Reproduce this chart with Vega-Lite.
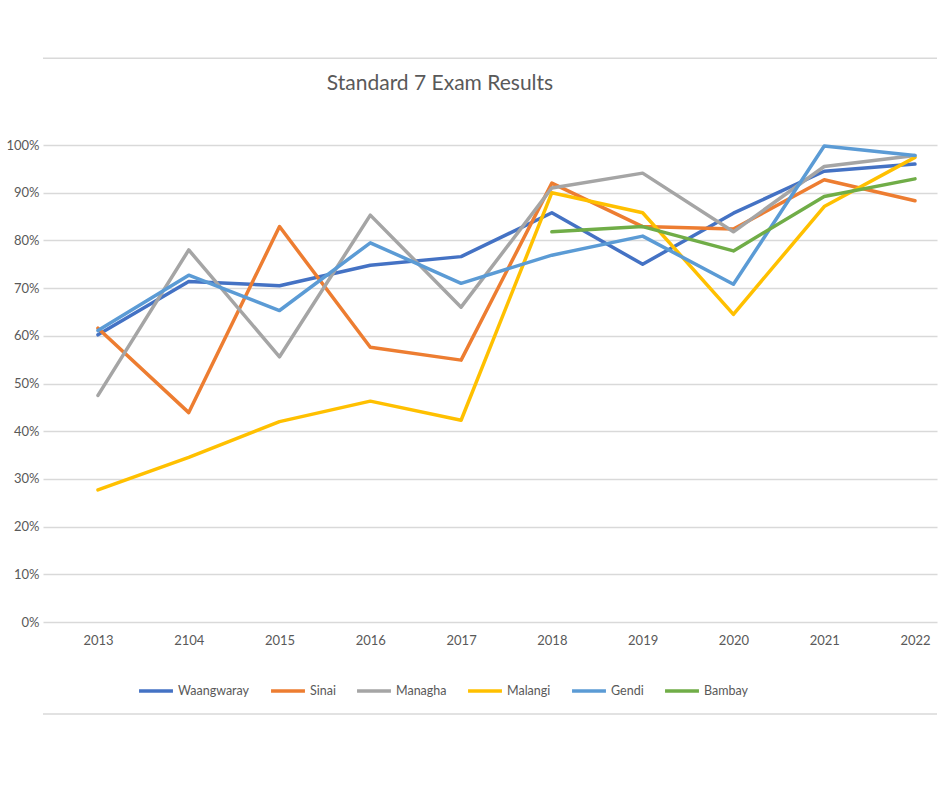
{
  "$schema": "https://vega.github.io/schema/vega-lite/v6.json",
  "autosize": "none",
  "width": 894,
  "height": 477,
  "padding": {"left": 43, "top": 145, "right": 3, "bottom": 166},
  "background": "white",
  "title": {
    "text": "Standard 7 Exam Results",
    "font": "Lato",
    "fontSize": 21,
    "fontWeight": "normal",
    "color": "#595959",
    "anchor": "middle",
    "dx": -50,
    "offset": -37
  },
  "layer": [
    {
      "data": {"values": [{}]},
      "mark": {"type": "rule", "color": "#d9d9d9", "strokeWidth": 1.5, "clip": false},
      "encoding": {"y": {"datum": 1.182, "type": "quantitative", "scale": {"domain": [0, 1], "nice": false}}}
    },
    {
      "data": {"values": [{}]},
      "mark": {"type": "rule", "color": "#d9d9d9", "strokeWidth": 1.5, "clip": false},
      "encoding": {"y": {"datum": -0.193, "type": "quantitative"}}
    },
    {
      "data": {
        "values": [
          {"school": "Waangwaray", "year": "2013", "pct": 0.602},
          {"school": "Waangwaray", "year": "2104", "pct": 0.714},
          {"school": "Waangwaray", "year": "2015", "pct": 0.705},
          {"school": "Waangwaray", "year": "2016", "pct": 0.748},
          {"school": "Waangwaray", "year": "2017", "pct": 0.766},
          {"school": "Waangwaray", "year": "2018", "pct": 0.858},
          {"school": "Waangwaray", "year": "2019", "pct": 0.750},
          {"school": "Waangwaray", "year": "2020", "pct": 0.857},
          {"school": "Waangwaray", "year": "2021", "pct": 0.945},
          {"school": "Waangwaray", "year": "2022", "pct": 0.960},
          {"school": "Sinai", "year": "2013", "pct": 0.616},
          {"school": "Sinai", "year": "2104", "pct": 0.439},
          {"school": "Sinai", "year": "2015", "pct": 0.829},
          {"school": "Sinai", "year": "2016", "pct": 0.576},
          {"school": "Sinai", "year": "2017", "pct": 0.549},
          {"school": "Sinai", "year": "2018", "pct": 0.920},
          {"school": "Sinai", "year": "2019", "pct": 0.829},
          {"school": "Sinai", "year": "2020", "pct": 0.824},
          {"school": "Sinai", "year": "2021", "pct": 0.927},
          {"school": "Sinai", "year": "2022", "pct": 0.883},
          {"school": "Managha", "year": "2013", "pct": 0.475},
          {"school": "Managha", "year": "2104", "pct": 0.780},
          {"school": "Managha", "year": "2015", "pct": 0.556},
          {"school": "Managha", "year": "2016", "pct": 0.853},
          {"school": "Managha", "year": "2017", "pct": 0.660},
          {"school": "Managha", "year": "2018", "pct": 0.910},
          {"school": "Managha", "year": "2019", "pct": 0.941},
          {"school": "Managha", "year": "2020", "pct": 0.818},
          {"school": "Managha", "year": "2021", "pct": 0.955},
          {"school": "Managha", "year": "2022", "pct": 0.978},
          {"school": "Malangi", "year": "2013", "pct": 0.277},
          {"school": "Malangi", "year": "2104", "pct": 0.345},
          {"school": "Malangi", "year": "2015", "pct": 0.420},
          {"school": "Malangi", "year": "2016", "pct": 0.463},
          {"school": "Malangi", "year": "2017", "pct": 0.423},
          {"school": "Malangi", "year": "2018", "pct": 0.900},
          {"school": "Malangi", "year": "2019", "pct": 0.858},
          {"school": "Malangi", "year": "2020", "pct": 0.645},
          {"school": "Malangi", "year": "2021", "pct": 0.871},
          {"school": "Malangi", "year": "2022", "pct": 0.974},
          {"school": "Gendi", "year": "2013", "pct": 0.611},
          {"school": "Gendi", "year": "2104", "pct": 0.727},
          {"school": "Gendi", "year": "2015", "pct": 0.653},
          {"school": "Gendi", "year": "2016", "pct": 0.795},
          {"school": "Gendi", "year": "2017", "pct": 0.710},
          {"school": "Gendi", "year": "2018", "pct": 0.769},
          {"school": "Gendi", "year": "2019", "pct": 0.809},
          {"school": "Gendi", "year": "2020", "pct": 0.708},
          {"school": "Gendi", "year": "2021", "pct": 0.998},
          {"school": "Gendi", "year": "2022", "pct": 0.978},
          {"school": "Bambay", "year": "2018", "pct": 0.818},
          {"school": "Bambay", "year": "2019", "pct": 0.829},
          {"school": "Bambay", "year": "2020", "pct": 0.778},
          {"school": "Bambay", "year": "2021", "pct": 0.892},
          {"school": "Bambay", "year": "2022", "pct": 0.929}
        ]
      },
      "mark": {"type": "line", "strokeWidth": 3.5, "strokeCap": "round", "strokeJoin": "round"},
      "encoding": {
        "x": {
          "field": "year",
          "type": "ordinal",
          "sort": ["2013", "2104", "2015", "2016", "2017", "2018", "2019", "2020", "2021", "2022"],
          "scale": {"type": "point", "padding": 0.424, "align": 0.714},
          "axis": {
            "title": null,
            "domain": false,
            "ticks": false,
            "grid": false,
            "labelAngle": 0,
            "labelFont": "Lato",
            "labelFontSize": 13,
            "labelColor": "#595959",
            "labelPadding": 12
          }
        },
        "y": {
          "field": "pct",
          "type": "quantitative",
          "scale": {"domain": [0, 1], "nice": false},
          "axis": {
            "title": null,
            "format": ".0%",
            "values": [0, 0.1, 0.2, 0.3, 0.4, 0.5, 0.6, 0.7, 0.8, 0.9, 1],
            "domain": false,
            "ticks": false,
            "grid": true,
            "gridColor": "#d9d9d9",
            "gridWidth": 1.3,
            "labelFont": "Lato",
            "labelFontSize": 13,
            "labelColor": "#595959",
            "labelPadding": 4
          }
        },
        "color": {
          "field": "school",
          "type": "nominal",
          "sort": ["Waangwaray", "Sinai", "Managha", "Malangi", "Gendi", "Bambay"],
          "scale": {
            "domain": ["Waangwaray", "Sinai", "Managha", "Malangi", "Gendi", "Bambay"],
            "range": ["#4472C4", "#ED7D31", "#A5A5A5", "#FFC000", "#5B9BD5", "#70AD47"]
          },
          "legend": {
            "title": null,
            "orient": "none",
            "direction": "horizontal",
            "legendX": 94,
            "legendY": 527,
            "symbolType": "stroke",
            "symbolStrokeWidth": 3.5,
            "symbolSize": 1150,
            "labelFont": "Lato",
            "labelFontSize": 12.5,
            "labelColor": "#595959",
            "labelOffset": 3,
            "columnPadding": 14
          }
        }
      }
    }
  ],
  "config": {
    "view": {"stroke": null}
  }
}
